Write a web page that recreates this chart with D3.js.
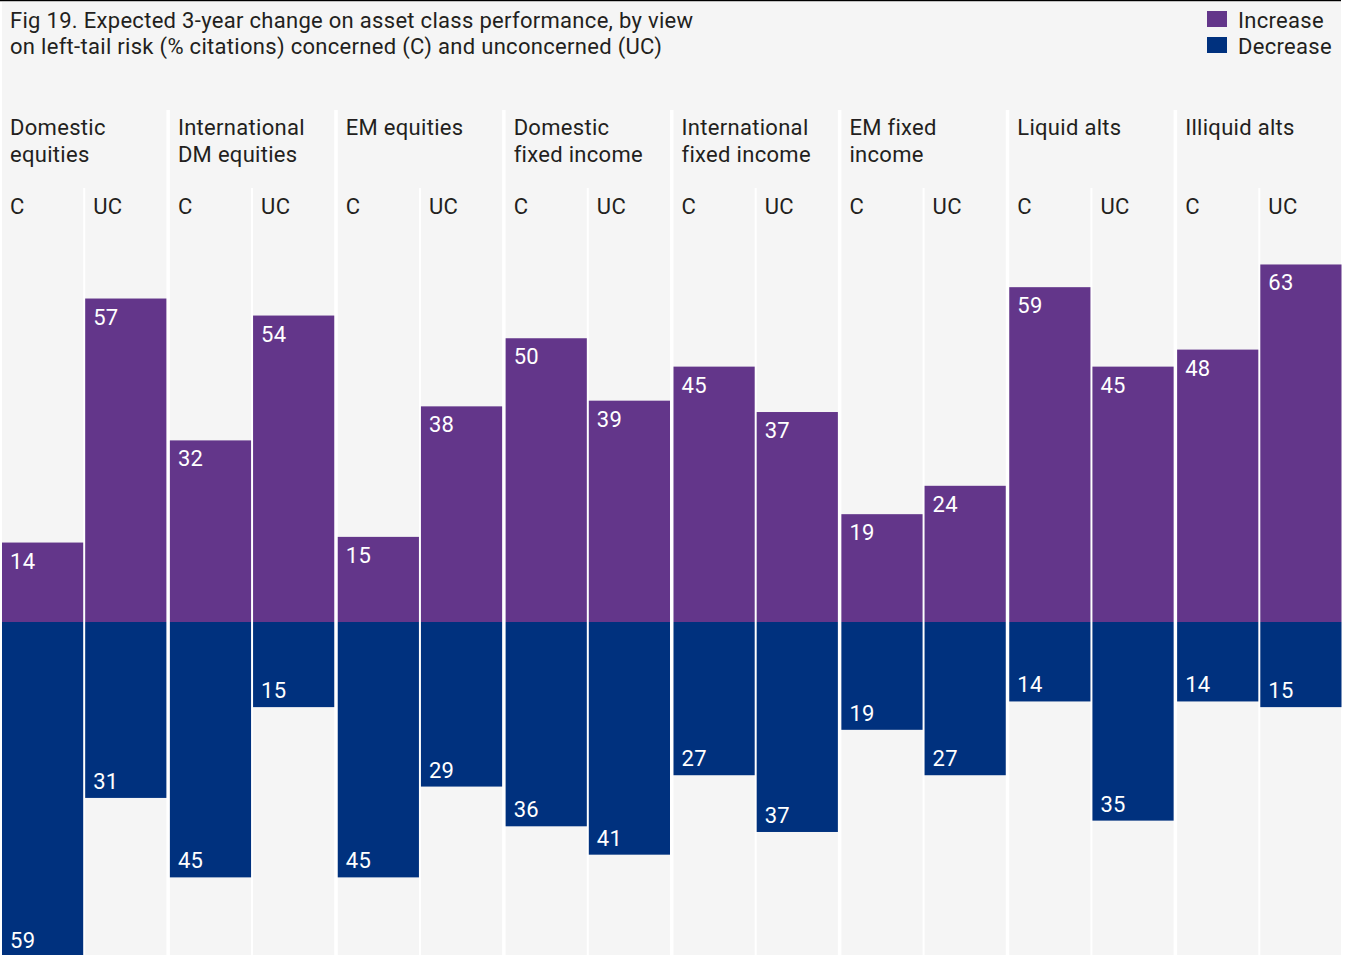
<!DOCTYPE html>
<html><head><meta charset="utf-8">
<script src="https://cdn.jsdelivr.net/npm/d3@7"></script>
<style>
html,body{margin:0;padding:0;background:#fff;}
svg text{font-family:Roboto,"Noto Sans",sans-serif;letter-spacing:0.3px;}
</style></head>
<body>
<svg id="chart" width="1350" height="955"></svg>
<script>
const groups = [["Domestic","equities"],["International","DM equities"],["EM equities"],["Domestic","fixed income"],["International","fixed income"],["EM fixed","income"],["Liquid alts"],["Illiquid alts"]];
const views = ["C","UC"];
const increaseC  = [14,32,15,50,45,19,59,48];
const increaseUC = [57,54,38,39,37,24,45,63];
const decreaseC  = [59,45,45,36,27,19,14,14];
const decreaseUC = [31,15,29,41,37,27,35,15];
const titleLines = ["Fig 19. Expected 3-year change on asset class performance, by view","on left-tail risk (% citations) concerned (C) and unconcerned (UC)"];
const legendItems = ["Increase","Decrease"];

const colInc = "#63368a", colDec = "#00317e", bg = "#f5f5f5", ink = "#231f20";
const svg = d3.select("#chart");
const fs = 22;

// background
svg.append("rect").attr("x",2).attr("y",2).attr("width",1339).attr("height",953).attr("fill",bg);
svg.append("line").attr("x1",0).attr("x2",1341).attr("y1",0.5).attr("y2",0.5).attr("stroke","#000").attr("stroke-width",1.5);

const x0 = d3.scaleBand().domain(d3.range(groups.length)).range([2,1345]).paddingInner(0);
const gw = x0.bandwidth() - 3.5;
const x1 = d3.scaleBand().domain(views).range([0,gw]).paddingInner(0.024).paddingOuter(0);
const y = d3.scaleLinear().domain([-60,70]).range([622+60*5.675, 622-70*5.675]);

const rows = [];
groups.forEach((g,i)=>{
  rows.push({g:i,v:"C",inc:increaseC[i],dec:decreaseC[i]});
  rows.push({g:i,v:"UC",inc:increaseUC[i],dec:decreaseUC[i]});
});

// separators
groups.forEach((g,i)=>{
  if(i>0){
    svg.append("rect").attr("x",x0(i)-3.5).attr("y",110).attr("width",3.5).attr("height",845).attr("fill","#fff");
  }
  svg.append("rect").attr("x",x0(i)+x1("UC")-x1.step()*x1.paddingInner()).attr("y",188)
    .attr("width",x1.step()*x1.paddingInner()).attr("height",767).attr("fill","#fff");
});

const cols = svg.selectAll("g.col").data(rows).join("g").attr("class","col")
  .attr("transform",d=>`translate(${x0(d.g)+x1(d.v)},0)`);

cols.append("rect").attr("x",0).attr("width",x1.bandwidth())
  .attr("y",d=>y(d.inc)).attr("height",d=>y(0)-y(d.inc)).attr("fill",colInc);
cols.append("rect").attr("x",0).attr("width",x1.bandwidth())
  .attr("y",y(0)).attr("height",d=>y(-d.dec)-y(0)).attr("fill",colDec);

cols.append("text").attr("x",8).attr("y",d=>y(d.inc)+26).attr("fill","#fff").attr("font-size",fs).text(d=>d.inc);
cols.append("text").attr("x",8).attr("y",d=>y(-d.dec)-9).attr("fill","#fff").attr("font-size",fs).text(d=>d.dec);

cols.append("text").attr("x",8).attr("y",214).attr("fill",ink).attr("font-size",fs).text(d=>d.v);

// group headers
groups.forEach((g,i)=>{
  const t = svg.append("text").attr("x",x0(i)+8).attr("y",135).attr("fill",ink).attr("font-size",fs);
  g.forEach((line,j)=>t.append("tspan").attr("x",x0(i)+8).attr("dy",j?27:0).text(line));
});

// title
const tt = svg.append("text").attr("x",10).attr("y",28).attr("fill",ink).attr("font-size",fs);
titleLines.forEach((l,j)=>tt.append("tspan").attr("x",10).attr("dy",j?26:0).text(l));

// legend
const lg = svg.selectAll("g.lg").data(legendItems).join("g").attr("class","lg")
  .attr("transform",(d,i)=>`translate(1207,${11+i*26})`);
lg.append("rect").attr("width",20).attr("height",16).attr("fill",(d,i)=>i?colDec:colInc);
lg.append("text").attr("x",31).attr("y",17).attr("fill",ink).attr("font-size",fs).text(d=>d);
</script>
</body></html>
